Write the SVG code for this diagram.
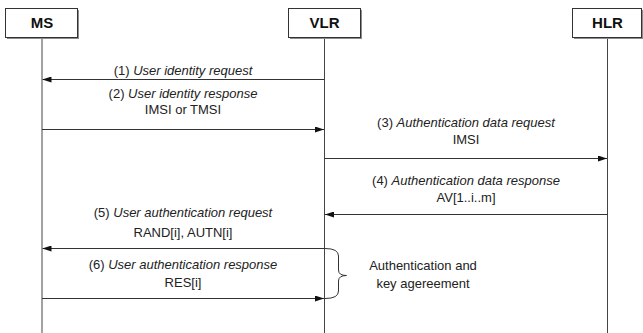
<svg xmlns="http://www.w3.org/2000/svg" width="643" height="333" viewBox="0 0 643 333">
  <style>
    .box { fill: #ffffff; stroke: #333333; stroke-width: 1; }
    .shadow { fill: #8c8c8c; }
    .name { font-family: "Liberation Sans", Arial, sans-serif; font-size: 15px; font-weight: bold; fill: #111111; text-anchor: middle; }
    .life { stroke: #444444; stroke-width: 1; fill: none; }
    .msg { stroke: #333333; stroke-width: 1; fill: none; }
    .lbl { font-family: "Liberation Sans", Arial, sans-serif; font-size: 13px; fill: #222222; text-anchor: middle; }
    .it { font-style: italic; }
  </style>
  <defs>
    <marker id="arrow" markerWidth="9" markerHeight="6" refX="9" refY="3" orient="auto" markerUnits="userSpaceOnUse">
      <polygon points="0,0 9,3 0,6" fill="#111111"/>
    </marker>
  </defs>

  <rect width="643" height="333" fill="#ffffff"/>

  <!-- lifelines -->
  <g id="lifelines">
    <line class="life" x1="42" y1="37" x2="42" y2="333"/>
    <line class="life" x1="324.5" y1="37" x2="324.5" y2="333"/>
    <line class="life" x1="607.5" y1="37" x2="607.5" y2="333"/>
  </g>

  <!-- entities -->
  <g id="ms">
    <rect class="shadow" x="7" y="10" width="72" height="29"/>
    <rect class="box" x="5.5" y="8.5" width="72" height="29"/>
    <text class="name" x="42" y="28">MS</text>
  </g>
  <g id="vlr">
    <rect class="shadow" x="290" y="10" width="72" height="29"/>
    <rect class="box" x="288.5" y="8.5" width="72" height="29"/>
    <text class="name" x="324.5" y="28">VLR</text>
  </g>
  <g id="hlr">
    <rect class="shadow" x="574" y="10" width="69" height="29"/>
    <rect class="box" x="572.5" y="8.5" width="69" height="29"/>
    <text class="name" x="607.5" y="28">HLR</text>
  </g>

  <!-- messages -->
  <g id="connectors">
    <line class="msg" x1="324.5" y1="79.5" x2="42.5" y2="79.5" marker-end="url(#arrow)"/>
    <line class="msg" x1="42" y1="129.5" x2="324" y2="129.5" marker-end="url(#arrow)"/>
    <line class="msg" x1="324.5" y1="158.5" x2="607" y2="158.5" marker-end="url(#arrow)"/>
    <line class="msg" x1="607.5" y1="214.5" x2="325" y2="214.5" marker-end="url(#arrow)"/>
    <line class="msg" x1="324.5" y1="248.5" x2="42.5" y2="248.5" marker-end="url(#arrow)"/>
    <line class="msg" x1="42" y1="298.5" x2="324" y2="298.5" marker-end="url(#arrow)"/>
    <!-- brace grouping steps 5 and 6 -->
    <path class="msg" d="M325,248.5 Q338.5,248.5 338.5,256 L338.5,270 Q338.5,275.5 346.5,275.5 Q338.5,275.5 338.5,281 L338.5,291 Q338.5,298.5 325,298.5"/>
  </g>

  <!-- message labels -->
  <g id="labels">
    <text class="lbl" x="183" y="75">(1) <tspan class="it">User identity request</tspan></text>
    <text class="lbl" x="183" y="98">(2) <tspan class="it">User identity response</tspan></text>
    <text class="lbl" x="183" y="114">IMSI or TMSI</text>
    <text class="lbl" x="466" y="127">(3) <tspan class="it">Authentication data request</tspan></text>
    <text class="lbl" x="466" y="144">IMSI</text>
    <text class="lbl" x="466" y="185">(4) <tspan class="it">Authentication data response</tspan></text>
    <text class="lbl" x="466" y="202">AV[1..i..m]</text>
    <text class="lbl" x="183" y="217">(5) <tspan class="it">User authentication request</tspan></text>
    <text class="lbl" x="183" y="237">RAND[i], AUTN[i]</text>
    <text class="lbl" x="183" y="269">(6) <tspan class="it">User authentication response</tspan></text>
    <text class="lbl" x="183" y="287">RES[i]</text>
    <text class="lbl" x="423" y="270">Authentication and</text>
    <text class="lbl" x="423" y="288">key agereement</text>
  </g>
</svg>
